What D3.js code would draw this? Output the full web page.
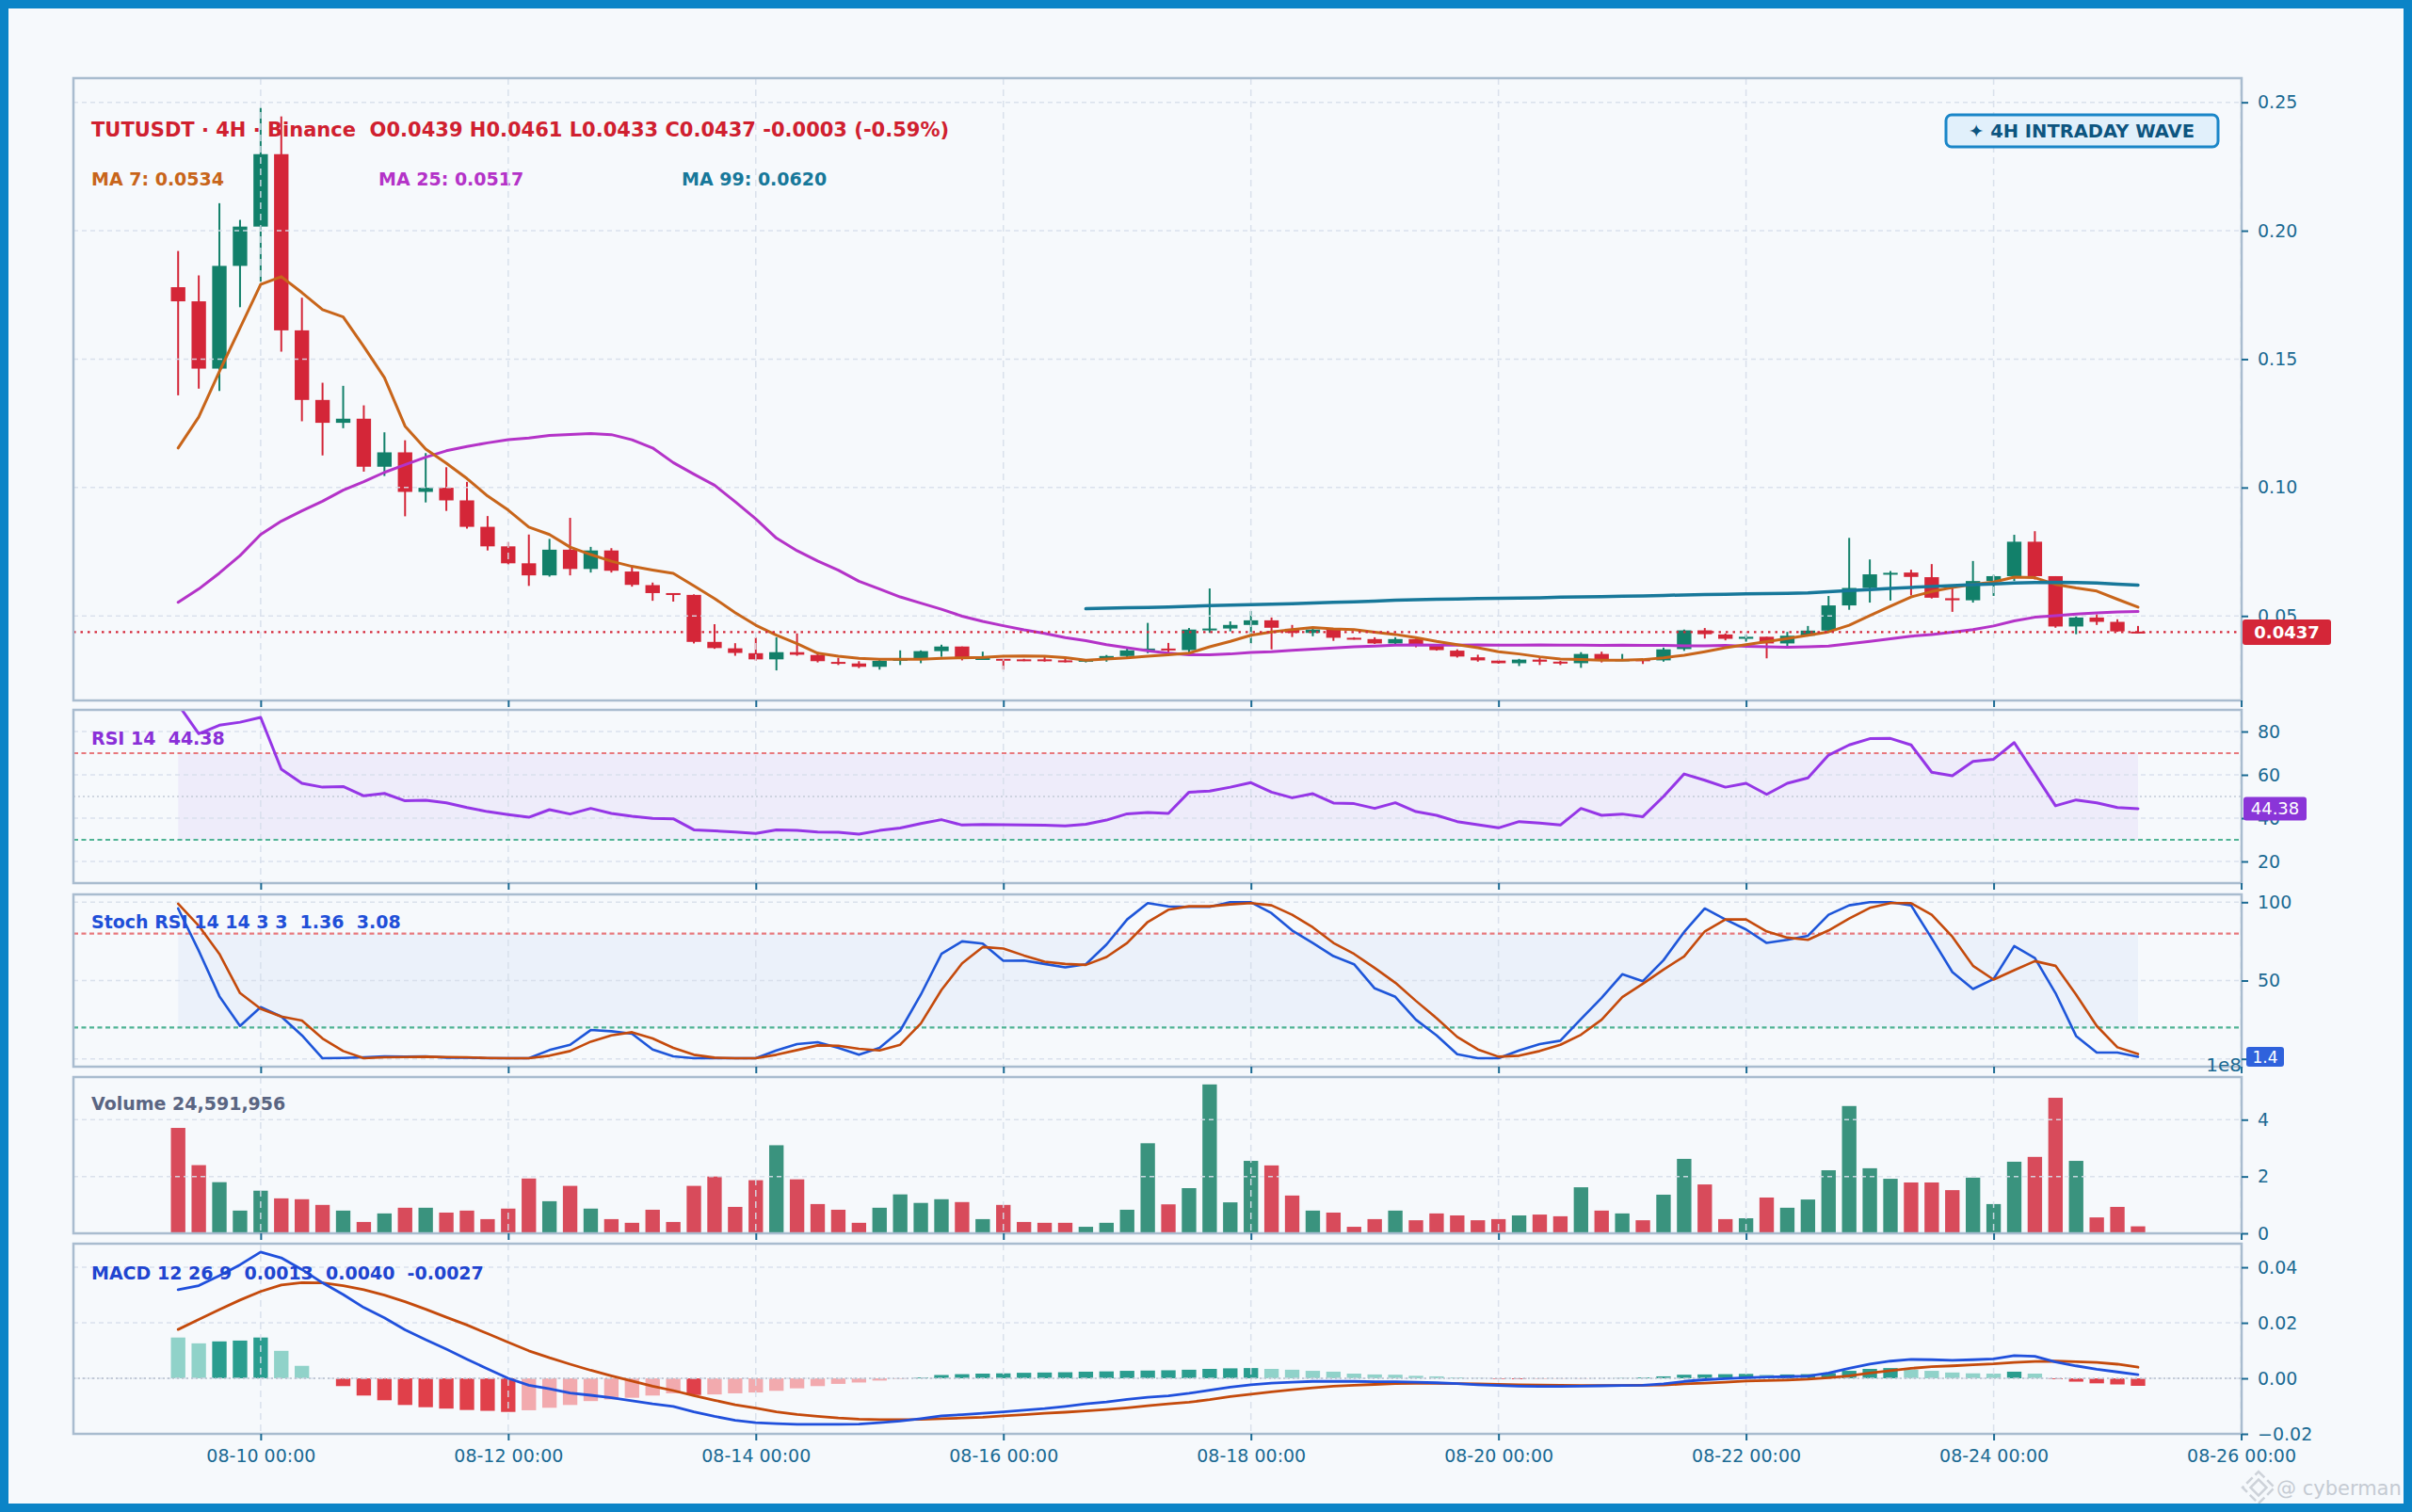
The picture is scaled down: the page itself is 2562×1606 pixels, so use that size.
<!DOCTYPE html>
<html>
<head>
<meta charset="utf-8">
<script src="https://cdnjs.cloudflare.com/ajax/libs/d3/7.8.5/d3.min.js"></script>
<style>
    html, body { margin: 0; padding: 0; background: #f6f9fc; }
    svg { display: block; font-family: "DejaVu Sans", sans-serif; }
</style>
</head>
<body>
<svg id="chart" width="2562" height="1606"></svg>
<script>
// TUTUSDT 4H candles
var candleStart = "2025-08-09 08:00";
var candleHours = 4;

var opens = [0.1780, 0.1725, 0.1463, 0.1863, 0.2016, 0.2298, 0.1612, 0.1341, 0.1252, 0.1268, 0.1081, 0.1137,
    0.0983, 0.0999, 0.0950, 0.0847, 0.0771, 0.0705, 0.0658, 0.0758, 0.0683, 0.0755, 0.0673, 0.0620,
    0.0589, 0.0582, 0.0399, 0.0374, 0.0355, 0.0331, 0.0359, 0.0348, 0.0321, 0.0315, 0.0302, 0.0325,
    0.0336, 0.0363, 0.0381, 0.0331, 0.0333, 0.0331, 0.0331, 0.0327, 0.0325, 0.0329, 0.0344, 0.0366,
    0.0373, 0.0367, 0.0447, 0.0451, 0.0465, 0.0483, 0.0450, 0.0434, 0.0447, 0.0415, 0.0410, 0.0393,
    0.0410, 0.0386, 0.0365, 0.0339, 0.0326, 0.0316, 0.0330, 0.0322, 0.0316, 0.0352, 0.0329, 0.0331,
    0.0327, 0.0371, 0.0444, 0.0428, 0.0411, 0.0419, 0.0393, 0.0423, 0.0443, 0.0541, 0.0609, 0.0662,
    0.0669, 0.0651, 0.0569, 0.0561, 0.0636, 0.0655, 0.0789, 0.0655, 0.0459, 0.0494, 0.0477, 0.0439];

var highs = [0.1921, 0.1826, 0.2107, 0.2042, 0.2478, 0.2445, 0.1739, 0.1408, 0.1396, 0.1320, 0.1215, 0.1184,
    0.1134, 0.1079, 0.1022, 0.0889, 0.0788, 0.0817, 0.0800, 0.0882, 0.0769, 0.0764, 0.0696, 0.0630,
    0.0589, 0.0584, 0.0468, 0.0394, 0.0417, 0.0417, 0.0432, 0.0359, 0.0337, 0.0324, 0.0335, 0.0366,
    0.0366, 0.0388, 0.0381, 0.0361, 0.0333, 0.0333, 0.0343, 0.0339, 0.0331, 0.0348, 0.0380, 0.0473,
    0.0395, 0.0453, 0.0607, 0.0479, 0.0519, 0.0494, 0.0465, 0.0454, 0.0447, 0.0417, 0.0417, 0.0417,
    0.0412, 0.0388, 0.0370, 0.0349, 0.0330, 0.0333, 0.0337, 0.0325, 0.0359, 0.0361, 0.0352, 0.0333,
    0.0377, 0.0447, 0.0453, 0.0432, 0.0428, 0.0419, 0.0438, 0.0461, 0.0578, 0.0804, 0.0720, 0.0675,
    0.0680, 0.0702, 0.0608, 0.0714, 0.0660, 0.0816, 0.0830, 0.0655, 0.0501, 0.0506, 0.0487, 0.0461];

var lows = [0.1359, 0.1385, 0.1376, 0.1702, 0.1801, 0.1529, 0.1258, 0.1125, 0.1231, 0.1062, 0.1045, 0.0888,
    0.0942, 0.0909, 0.0840, 0.0755, 0.0699, 0.0617, 0.0653, 0.0658, 0.0669, 0.0669, 0.0614, 0.0559,
    0.0556, 0.0393, 0.0372, 0.0345, 0.0325, 0.0288, 0.0345, 0.0319, 0.0309, 0.0297, 0.0291, 0.0309,
    0.0316, 0.0341, 0.0327, 0.0331, 0.0291, 0.0324, 0.0322, 0.0319, 0.0319, 0.0322, 0.0339, 0.0355,
    0.0355, 0.0352, 0.0434, 0.0440, 0.0393, 0.0370, 0.0418, 0.0421, 0.0403, 0.0408, 0.0391, 0.0388,
    0.0378, 0.0365, 0.0338, 0.0322, 0.0314, 0.0305, 0.0309, 0.0309, 0.0298, 0.0319, 0.0325, 0.0313,
    0.0322, 0.0364, 0.0412, 0.0405, 0.0400, 0.0335, 0.0383, 0.0420, 0.0442, 0.0524, 0.0552, 0.0560,
    0.0580, 0.0568, 0.0516, 0.0552, 0.0578, 0.0636, 0.0642, 0.0454, 0.0429, 0.0465, 0.0438, 0.0433];

var closes = [0.1725, 0.1463, 0.1863, 0.2016, 0.2298, 0.1612, 0.1341, 0.1252, 0.1268, 0.1081, 0.1137, 0.0983,
    0.0999, 0.0950, 0.0847, 0.0771, 0.0705, 0.0658, 0.0758, 0.0683, 0.0755, 0.0676, 0.0621, 0.0589,
    0.0585, 0.0399, 0.0375, 0.0356, 0.0331, 0.0359, 0.0349, 0.0324, 0.0316, 0.0302, 0.0325, 0.0336,
    0.0363, 0.0381, 0.0333, 0.0336, 0.0331, 0.0326, 0.0327, 0.0323, 0.0329, 0.0344, 0.0366, 0.0373,
    0.0366, 0.0447, 0.0451, 0.0465, 0.0483, 0.0454, 0.0434, 0.0447, 0.0415, 0.0410, 0.0393, 0.0410,
    0.0386, 0.0367, 0.0342, 0.0327, 0.0316, 0.0330, 0.0322, 0.0316, 0.0352, 0.0329, 0.0331, 0.0327,
    0.0370, 0.0444, 0.0429, 0.0411, 0.0419, 0.0393, 0.0423, 0.0443, 0.0541, 0.0609, 0.0662, 0.0668,
    0.0652, 0.0571, 0.0561, 0.0636, 0.0655, 0.0789, 0.0655, 0.0459, 0.0494, 0.0477, 0.0440, 0.0437];

var volumes = [3.71e8, 2.40e8, 1.80e8, 0.80e8, 1.50e8, 1.23e8, 1.20e8, 1.00e8, 0.80e8, 0.40e8, 0.70e8, 0.90e8,
    0.90e8, 0.73e8, 0.80e8, 0.50e8, 0.87e8, 1.93e8, 1.13e8, 1.67e8, 0.87e8, 0.50e8, 0.37e8, 0.83e8,
    0.40e8, 1.67e8, 2.00e8, 0.93e8, 1.87e8, 3.10e8, 1.90e8, 1.03e8, 0.83e8, 0.37e8, 0.90e8, 1.37e8,
    1.07e8, 1.20e8, 1.10e8, 0.50e8, 1.00e8, 0.40e8, 0.37e8, 0.37e8, 0.23e8, 0.37e8, 0.83e8, 3.17e8,
    1.02e8, 1.59e8, 5.24e8, 1.09e8, 2.55e8, 2.39e8, 1.33e8, 0.80e8, 0.73e8, 0.23e8, 0.50e8, 0.80e8,
    0.46e8, 0.70e8, 0.63e8, 0.46e8, 0.50e8, 0.63e8, 0.66e8, 0.60e8, 1.62e8, 0.80e8, 0.70e8, 0.46e8,
    1.36e8, 2.62e8, 1.72e8, 0.50e8, 0.53e8, 1.26e8, 0.90e8, 1.19e8, 2.22e8, 4.48e8, 2.29e8, 1.92e8,
    1.79e8, 1.79e8, 1.52e8, 1.96e8, 1.03e8, 2.52e8, 2.69e8, 4.77e8, 2.55e8, 0.56e8, 0.93e8, 24591956];

var ma7 = [0.1154, 0.1275, 0.1452, 0.1621, 0.1791, 0.1821, 0.1759, 0.1693, 0.1664, 0.1549, 0.1428, 0.1239,
    0.1150, 0.1095, 0.1035, 0.0967, 0.0912, 0.0846, 0.0817, 0.0768, 0.0739, 0.0713, 0.0693, 0.0679,
    0.0666, 0.0617, 0.0568, 0.0513, 0.0464, 0.0425, 0.0392, 0.0355, 0.0343, 0.0335, 0.0331, 0.0331,
    0.0331, 0.0335, 0.0337, 0.0339, 0.0343, 0.0344, 0.0343, 0.0338, 0.0328, 0.0332, 0.0337, 0.0343,
    0.0349, 0.0355, 0.0380, 0.0401, 0.0425, 0.0438, 0.0447, 0.0455, 0.0450, 0.0447, 0.0437, 0.0428,
    0.0416, 0.0401, 0.0388, 0.0376, 0.0361, 0.0352, 0.0341, 0.0332, 0.0330, 0.0328, 0.0328, 0.0330,
    0.0337, 0.0347, 0.0361, 0.0376, 0.0388, 0.0400, 0.0412, 0.0425, 0.0438, 0.0464, 0.0501, 0.0538,
    0.0574, 0.0595, 0.0611, 0.0623, 0.0632, 0.0651, 0.0649, 0.0623, 0.0609, 0.0597, 0.0565, 0.0534];

var ma25 = [0.0553, 0.0605, 0.0667, 0.0735, 0.0817, 0.0869, 0.0909, 0.0947, 0.0990, 0.1023, 0.1059, 0.1089,
    0.1118, 0.1143, 0.1160, 0.1174, 0.1186, 0.1193, 0.1203, 0.1207, 0.1210, 0.1206, 0.1186, 0.1154,
    0.1097, 0.1052, 0.1009, 0.0945, 0.0878, 0.0803, 0.0754, 0.0714, 0.0678, 0.0635, 0.0605, 0.0574,
    0.0550, 0.0526, 0.0499, 0.0479, 0.0462, 0.0446, 0.0432, 0.0416, 0.0404, 0.0388, 0.0376, 0.0364,
    0.0355, 0.0349, 0.0349, 0.0352, 0.0358, 0.0361, 0.0366, 0.0371, 0.0375, 0.0380, 0.0383, 0.0386,
    0.0387, 0.0386, 0.0386, 0.0387, 0.0386, 0.0386, 0.0387, 0.0386, 0.0386, 0.0385, 0.0386, 0.0385,
    0.0385, 0.0384, 0.0384, 0.0385, 0.0382, 0.0380, 0.0378, 0.0380, 0.0383, 0.0392, 0.0401, 0.0411,
    0.0421, 0.0428, 0.0437, 0.0447, 0.0461, 0.0481, 0.0495, 0.0501, 0.0507, 0.0512, 0.0516, 0.0517];

// MA 99 only exists from candle 44 on
var ma99Start = 44;
var ma99 = [0.0528, 0.0530, 0.0532, 0.0533, 0.0535, 0.0538, 0.0540, 0.0542, 0.0544, 0.0546, 0.0548, 0.0550,
    0.0553, 0.0555, 0.0558, 0.0561, 0.0563, 0.0565, 0.0566, 0.0568, 0.0569, 0.0570, 0.0571, 0.0573,
    0.0574, 0.0575, 0.0577, 0.0578, 0.0580, 0.0582, 0.0583, 0.0584, 0.0586, 0.0587, 0.0588, 0.0590,
    0.0594, 0.0599, 0.0603, 0.0607, 0.0611, 0.0615, 0.0618, 0.0622, 0.0625, 0.0628, 0.0630, 0.0631,
    0.0630, 0.0628, 0.0624, 0.0620];

var rsi14 = [92.5, 79.0, 82.9, 84.3, 86.5, 62.6, 56.1, 54.3, 54.6, 50.3, 51.4, 48.0,
    48.3, 47.1, 44.9, 43.0, 41.6, 40.4, 43.9, 41.9, 44.5, 42.2, 40.9, 39.9,
    39.7, 34.6, 34.1, 33.6, 32.9, 34.6, 34.3, 33.6, 33.5, 32.6, 34.3, 35.4,
    37.5, 39.3, 36.8, 37.1, 37.0, 36.8, 36.7, 36.4, 37.2, 39.1, 42.0, 42.6,
    42.2, 52.0, 52.5, 54.3, 56.4, 52.0, 49.4, 51.3, 47.0, 46.7, 44.5, 47.1,
    43.0, 41.3, 38.4, 37.0, 35.5, 38.4, 37.7, 36.8, 44.5, 41.3, 41.9, 40.7,
    50.0, 60.4, 57.5, 54.3, 56.1, 51.0, 56.1, 58.6, 69.1, 73.8, 76.7, 76.8,
    73.8, 61.2, 59.6, 66.2, 67.2, 74.9, 60.4, 45.7, 48.4, 47.1, 44.9, 44.38];

var stochK = [96, 69, 40, 21, 33, 27, 15, 0.4, 0.6, 1.0, 1.6, 1.4,
    1.6, 0.8, 0.8, 0.4, 0.4, 0.4, 5.6, 9.0, 18.4, 17.6, 16.0, 6.0,
    1.6, 0.4, 0.4, 0.4, 0.4, 5.4, 9.4, 10.6, 7.0, 2.6, 7.0, 18.0,
    41.0, 67.0, 75.0, 73.6, 62.6, 62.8, 60.6, 58.4, 60.4, 73.0, 89.0, 99.4,
    97.3, 97.0, 97.0, 100, 100, 93, 82, 74, 65.6, 60.4, 45, 39.6,
    25, 15, 3, 0.4, 0.4, 5.4, 9.4, 11.6, 25.4, 39, 54, 49.6,
    63, 81, 96, 89, 82.6, 74, 76, 78.6, 92, 98, 100, 100,
    98, 77, 55.4, 44.6, 51, 72, 64.4, 42, 14.6, 4, 4, 1.36];

var stochD = [99, 85, 67, 42, 32, 27, 24.4, 13, 5, 0.4, 1.0, 1.2,
    1.4, 1.2, 1.0, 0.6, 0.4, 0.4, 2.0, 5.0, 11.0, 15.0, 17.0, 13.0,
    7.0, 2.6, 0.8, 0.4, 0.4, 2.6, 5.6, 8.6, 8.4, 6.4, 5.4, 9.0,
    22.6, 44, 61, 71.4, 70.4, 66, 62, 60.6, 60, 65, 74, 87.4,
    95.2, 97.4, 97.4, 98.6, 99.4, 98, 92, 84, 74, 67, 58, 48.6,
    37, 26, 14, 6, 1.4, 2, 5, 9, 15.4, 25, 39.4, 48,
    57, 65.4, 81.4, 89, 89, 81.4, 77.4, 76, 82, 89.6, 96.4, 99.4,
    99.4, 92, 78, 59.4, 50.6, 56.6, 62.4, 59.4, 41, 21, 7.4, 3.08];

var macdLine = [0.0319, 0.0334, 0.0370, 0.0409, 0.0455, 0.0434, 0.0392, 0.0344, 0.0302, 0.0255, 0.0218, 0.0175,
    0.0139, 0.0105, 0.0069, 0.0034, 0.0000, -0.0025, -0.0038, -0.0053, -0.0061, -0.0070, -0.0081, -0.0092,
    -0.0101, -0.0121, -0.0137, -0.0151, -0.0160, -0.0163, -0.0166, -0.0166, -0.0166, -0.0165, -0.0160, -0.0154,
    -0.0145, -0.0135, -0.0131, -0.0126, -0.0121, -0.0115, -0.0109, -0.0101, -0.0092, -0.0085, -0.0076, -0.0068,
    -0.0063, -0.0054, -0.0043, -0.0032, -0.0023, -0.0017, -0.0014, -0.0011, -0.0011, -0.0011, -0.0012, -0.0012,
    -0.0014, -0.0016, -0.0019, -0.0023, -0.0026, -0.0028, -0.0029, -0.0029, -0.0028, -0.0027, -0.0026, -0.0025,
    -0.0020, -0.0011, -0.0005, -0.0001, 0.0002, 0.0005, 0.0006, 0.0008, 0.0019, 0.0036, 0.0051, 0.0062,
    0.0068, 0.0067, 0.0065, 0.0067, 0.0070, 0.0082, 0.0079, 0.0059, 0.0045, 0.0033, 0.0023, 0.0013];

var macdSignal = [0.0176, 0.0212, 0.0248, 0.0282, 0.0313, 0.0336, 0.0345, 0.0344, 0.0334, 0.0319, 0.0300, 0.0276,
    0.0249, 0.0220, 0.0192, 0.0161, 0.0130, 0.0099, 0.0074, 0.0051, 0.0029, 0.0009, -0.0010, -0.0028,
    -0.0044, -0.0062, -0.0079, -0.0095, -0.0107, -0.0121, -0.0130, -0.0137, -0.0143, -0.0147, -0.0149, -0.0149,
    -0.0148, -0.0145, -0.0143, -0.0140, -0.0135, -0.0131, -0.0126, -0.0122, -0.0117, -0.0112, -0.0106, -0.0099,
    -0.0092, -0.0086, -0.0077, -0.0066, -0.0057, -0.0049, -0.0041, -0.0034, -0.0028, -0.0025, -0.0022, -0.0019,
    -0.0018, -0.0018, -0.0019, -0.0020, -0.0022, -0.0023, -0.0024, -0.0025, -0.0026, -0.0026, -0.0026, -0.0025,
    -0.0024, -0.0020, -0.0017, -0.0014, -0.0010, -0.0008, -0.0006, -0.0003, 0.0002, 0.0009, 0.0019, 0.0028,
    0.0036, 0.0042, 0.0045, 0.0049, 0.0052, 0.0057, 0.0061, 0.0062, 0.0060, 0.0057, 0.0051, 0.0040];

var macdHist = [0.0147, 0.0126, 0.0133, 0.0136, 0.0147, 0.0099, 0.0045, 0.0000, -0.0028, -0.0062, -0.0079, -0.0096,
    -0.0104, -0.0109, -0.0114, -0.0117, -0.0121, -0.0115, -0.0106, -0.0096, -0.0082, -0.0076, -0.0070, -0.0062,
    -0.0054, -0.0060, -0.0058, -0.0054, -0.0051, -0.0045, -0.0036, -0.0028, -0.0020, -0.0015, -0.0008, -0.0002,
    0.0003, 0.0012, 0.0015, 0.0017, 0.0018, 0.0020, 0.0021, 0.0022, 0.0024, 0.0025, 0.0027, 0.0028,
    0.0029, 0.0031, 0.0034, 0.0036, 0.0037, 0.0034, 0.0031, 0.0027, 0.0024, 0.0017, 0.0014, 0.0013,
    0.0009, 0.0007, 0.0003, 0.0001, -0.0002, -0.0003, -0.0002, -0.0001, -0.0001, 0.0000, 0.0001, 0.0003,
    0.0007, 0.0013, 0.0014, 0.0015, 0.0016, 0.0013, 0.0014, 0.0015, 0.0019, 0.0027, 0.0034, 0.0037,
    0.0031, 0.0027, 0.0021, 0.0018, 0.0017, 0.0024, 0.0017, -0.0003, -0.0012, -0.0018, -0.0022, -0.0027];

var xTickLabels = ["08-10 00:00", "08-12 00:00", "08-14 00:00", "08-16 00:00", "08-18 00:00",
    "08-20 00:00", "08-22 00:00", "08-24 00:00", "08-26 00:00"];
var priceTicks = [0.05, 0.10, 0.15, 0.20, 0.25];
var rsiTicks = [20, 40, 60, 80];
var stochTicks = [0, 50, 100];
var volumeTicks = [0, 2e8, 4e8];
var macdTicks = [-0.02, 0, 0.02, 0.04];

var titleText = "TUTUSDT · 4H · Binance  O0.0439 H0.0461 L0.0433 C0.0437 -0.0003 (-0.59%)";
var lastPrice = 0.0437;

// ---------------------------------------------------------------
var UP = "#12806a", DOWN = "#d42638";
var VOL_UP = "#3a937e", VOL_DOWN = "#d84b5b";
var TICK_COLOR = "#1b6a93";
var GRID_COLOR = "#d7dfeb";
var FRAME_COLOR = "#a9bccf";

var X_LEFT = 78, X_RIGHT = 2381;
var PANELS = {
    price: {top: 83, bottom: 744},
    rsi: {top: 754, bottom: 938},
    stoch: {top: 950, bottom: 1133},
    volume: {top: 1144, bottom: 1310},
    macd: {top: 1321, bottom: 1523}
};

var parseTime = d3.utcParse("%Y-%m-%d %H:%M");
var t0 = parseTime(candleStart);
var candleTimes = d3.range(opens.length).map(function (i) {
    return d3.utcHour.offset(t0, candleHours * i);
});
var xTickDates = xTickLabels.map(function (s) { return parseTime("2025-" + s); });

var x = d3.scaleUtc()
    .domain([parseTime("2025-08-08 11:42"), parseTime("2025-08-26 00:05")])
    .range([X_LEFT, X_RIGHT]);

var yPrice = d3.scaleLinear().domain([0.0171, 0.2594]).range([PANELS.price.bottom, PANELS.price.top]);
var yRsi = d3.scaleLinear().domain([10, 90]).range([PANELS.rsi.bottom, PANELS.rsi.top]);
var yStoch = d3.scaleLinear().domain([-5, 105]).range([PANELS.stoch.bottom, PANELS.stoch.top]);
var yVol = d3.scaleLinear().domain([0, 5.5e8]).range([PANELS.volume.bottom, PANELS.volume.top]);
var yMacd = d3.scaleLinear().domain([-0.02, 0.0485]).range([PANELS.macd.bottom, PANELS.macd.top]);

var step = x(candleTimes[1]) - x(candleTimes[0]);
var barW = step * 0.7;

function xAt(i) { return x(candleTimes[i]); }
function isUp(i) { return closes[i] >= opens[i]; }

var svg = d3.select("#chart");
var defs = svg.append("defs");

svg.append("rect").attr("width", 2562).attr("height", 1606).attr("fill", "#f6f9fc");

function makeClip(name, panel) {
    defs.append("clipPath").attr("id", "clip-" + name)
        .append("rect")
        .attr("x", X_LEFT).attr("y", panel.top)
        .attr("width", X_RIGHT - X_LEFT).attr("height", panel.bottom - panel.top);
}

function panelGroup(name) {
    makeClip(name, PANELS[name]);
    return svg.append("g").attr("clip-path", "url(#clip-" + name + ")");
}

function drawGrid(g, panel, yScale, ticks) {
    g.selectAll(null).data(ticks).join("line")
        .attr("x1", X_LEFT).attr("x2", X_RIGHT)
        .attr("y1", function (d) { return yScale(d); })
        .attr("y2", function (d) { return yScale(d); })
        .attr("stroke", GRID_COLOR).attr("stroke-width", 1.5)
        .attr("stroke-dasharray", "5,4").attr("opacity", 0.9);
    g.selectAll(null).data(xTickDates).join("line")
        .attr("x1", function (d) { return x(d); })
        .attr("x2", function (d) { return x(d); })
        .attr("y1", panel.top).attr("y2", panel.bottom)
        .attr("stroke", GRID_COLOR).attr("stroke-width", 1.5)
        .attr("stroke-dasharray", "7,5").attr("opacity", 0.9);
}

function drawHLine(g, y, color, dash, width) {
    g.append("line")
        .attr("x1", X_LEFT).attr("x2", X_RIGHT)
        .attr("y1", y).attr("y2", y)
        .attr("stroke", color).attr("stroke-width", width || 2)
        .attr("stroke-dasharray", dash);
}

function drawSeries(g, values, yScale, color, width, offset) {
    offset = offset || 0;
    var line = d3.line()
        .x(function (d, i) { return xAt(i + offset); })
        .y(function (d) { return yScale(d); });
    g.append("path")
        .datum(values)
        .attr("d", line)
        .attr("fill", "none")
        .attr("stroke", color)
        .attr("stroke-width", width)
        .attr("stroke-linejoin", "round")
        .attr("stroke-linecap", "round");
}

function drawLabel(txt, y, color, size) {
    svg.append("text")
        .attr("x", 97).attr("y", y)
        .attr("fill", color)
        .attr("font-size", size || 19)
        .attr("font-weight", "bold")
        .style("white-space", "pre")
        .text(txt);
}

function drawFrame(panel) {
    svg.append("rect")
        .attr("x", X_LEFT).attr("y", panel.top)
        .attr("width", X_RIGHT - X_LEFT).attr("height", panel.bottom - panel.top)
        .attr("fill", "none").attr("stroke", FRAME_COLOR).attr("stroke-width", 2.5);
}

function drawRightAxis(panel, yScale, ticks, fmt) {
    var axis = d3.axisRight(yScale).tickValues(ticks).tickSize(7).tickPadding(10).tickFormat(fmt);
    var g = svg.append("g").attr("transform", "translate(" + X_RIGHT + ",0)").call(axis);
    styleAxis(g);
}

function drawBottomAxis(panel, withLabels) {
    var axis = d3.axisBottom(x).tickValues(xTickDates).tickSize(7).tickPadding(10)
        .tickFormat(withLabels ? d3.utcFormat("%m-%d %H:%M") : "");
    var g = svg.append("g").attr("transform", "translate(0," + panel.bottom + ")").call(axis);
    styleAxis(g);
}

function styleAxis(g) {
    g.select(".domain").remove();
    g.selectAll(".tick line").attr("stroke", TICK_COLOR).attr("stroke-width", 2);
    g.selectAll(".tick text")
        .attr("fill", TICK_COLOR)
        .attr("font-size", 19)
        .attr("font-family", "DejaVu Sans");
}

function drawBadge(cx, cy, w, h, fill, txt, size, bold) {
    svg.append("rect")
        .attr("x", cx).attr("y", cy - h / 2)
        .attr("width", w).attr("height", h)
        .attr("rx", 3).attr("fill", fill);
    svg.append("text")
        .attr("x", cx + w / 2).attr("y", cy)
        .attr("dy", "0.36em")
        .attr("text-anchor", "middle")
        .attr("fill", "#ffffff")
        .attr("font-size", size)
        .attr("font-weight", bold ? "bold" : "normal")
        .text(txt);
}

// ---------------- price panel ----------------
drawLabel(titleText, 145, "#d0202f", 21);
drawLabel("MA 7: " + ma7[ma7.length - 1].toFixed(4), 197, "#c8651a");
svg.append("text").attr("x", 402).attr("y", 197).attr("fill", "#b433c8")
    .attr("font-size", 19).attr("font-weight", "bold")
    .text("MA 25: " + ma25[ma25.length - 1].toFixed(4));
svg.append("text").attr("x", 724).attr("y", 197).attr("fill", "#17789a")
    .attr("font-size", 19).attr("font-weight", "bold")
    .text("MA 99: " + ma99[ma99.length - 1].toFixed(4));

var priceG = panelGroup("price");
var candles = priceG.selectAll("g.candle").data(d3.range(opens.length)).join("g").attr("class", "candle");
candles.append("line")
    .attr("x1", xAt).attr("x2", xAt)
    .attr("y1", function (i) { return yPrice(highs[i]); })
    .attr("y2", function (i) { return yPrice(lows[i]); })
    .attr("stroke", function (i) { return isUp(i) ? UP : DOWN; })
    .attr("stroke-width", 2);
candles.append("rect")
    .attr("x", function (i) { return xAt(i) - barW / 2; })
    .attr("y", function (i) { return yPrice(Math.max(opens[i], closes[i])); })
    .attr("width", barW)
    .attr("height", function (i) {
        return Math.max(2, Math.abs(yPrice(opens[i]) - yPrice(closes[i])));
    })
    .attr("fill", function (i) { return isUp(i) ? UP : DOWN; });
drawGrid(priceG, PANELS.price, yPrice, priceTicks);
drawSeries(priceG, ma25, yPrice, "#b433c8", 3);
drawSeries(priceG, ma7, yPrice, "#c8651a", 3);
drawSeries(priceG, ma99, yPrice, "#17789a", 3.5, ma99Start);
drawHLine(priceG, yPrice(lastPrice), DOWN, "2.5,5", 2.2);
drawFrame(PANELS.price);

// intraday badge
svg.append("rect")
    .attr("x", 2067).attr("y", 122).attr("width", 289).attr("height", 34)
    .attr("rx", 6).attr("fill", "#e1f0fb")
    .attr("stroke", "#1a86c8").attr("stroke-width", 3);
svg.append("text")
    .attr("x", 2211).attr("y", 146)
    .attr("text-anchor", "middle")
    .attr("fill", "#0d5580").attr("font-size", 19.5).attr("font-weight", "bold")
    .text("✦ 4H INTRADAY WAVE");

// ---------------- RSI panel ----------------
var rsiG = panelGroup("rsi");
rsiG.append("rect")
    .attr("x", xAt(0)).attr("width", xAt(opens.length - 1) - xAt(0))
    .attr("y", yRsi(70)).attr("height", yRsi(30) - yRsi(70))
    .attr("fill", "#9b59e6").attr("opacity", 0.08);
drawGrid(rsiG, PANELS.rsi, yRsi, rsiTicks);
drawHLine(rsiG, yRsi(50), "#c2cad6", "2,3", 1.5);
drawHLine(rsiG, yRsi(70), "#e8787c", "5,3.5", 2.2);
drawHLine(rsiG, yRsi(30), "#4fb394", "5,3.5", 2.2);
drawLabel("RSI 14  " + rsi14[rsi14.length - 1].toFixed(2), 791, "#8a2fd8");
drawSeries(rsiG, rsi14, yRsi, "#9536e6", 3);
drawFrame(PANELS.rsi);

// ---------------- Stoch RSI panel ----------------
var stochG = panelGroup("stoch");
stochG.append("rect")
    .attr("x", xAt(0)).attr("width", xAt(opens.length - 1) - xAt(0))
    .attr("y", yStoch(80)).attr("height", yStoch(20) - yStoch(80))
    .attr("fill", "#4a74e0").attr("opacity", 0.06);
drawGrid(stochG, PANELS.stoch, yStoch, stochTicks);
drawHLine(stochG, yStoch(80), "#e8787c", "5,3.5", 2.2);
drawHLine(stochG, yStoch(20), "#4fb394", "5,3.5", 2.2);
drawLabel("Stoch RSI 14 14 3 3  " + stochK[stochK.length - 1].toFixed(2) + "  " +
    stochD[stochD.length - 1].toFixed(2), 986, "#1f4fd8");
drawSeries(stochG, stochK, yStoch, "#1e56d9", 2.6);
drawSeries(stochG, stochD, yStoch, "#c44a0c", 2.6);
drawFrame(PANELS.stoch);

// ---------------- Volume panel ----------------
var volG = panelGroup("volume");
drawLabel("Volume " + d3.format(",")(volumes[volumes.length - 1]), 1179, "#5a6582");
volG.selectAll("rect.vol").data(volumes).join("rect").attr("class", "vol")
    .attr("x", function (d, i) { return xAt(i) - barW / 2; })
    .attr("y", function (d) { return yVol(d); })
    .attr("width", barW)
    .attr("height", function (d) { return yVol(0) - yVol(d); })
    .attr("fill", function (d, i) { return isUp(i) ? VOL_UP : VOL_DOWN; });
drawGrid(volG, PANELS.volume, yVol, volumeTicks.slice(1));
drawFrame(PANELS.volume);

// ---------------- MACD panel ----------------
var macdG = panelGroup("macd");
drawLabel("MACD 12 26 9  " + macdLine[macdLine.length - 1].toFixed(4) + "  " +
    macdSignal[macdSignal.length - 1].toFixed(4) + "  " +
    macdHist[macdHist.length - 1].toFixed(4), 1359, "#1f45d0");
macdG.selectAll("rect.hist").data(macdHist).join("rect").attr("class", "hist")
    .attr("x", function (d, i) { return xAt(i) - barW / 2; })
    .attr("y", function (d) { return yMacd(Math.max(0, d)); })
    .attr("width", barW)
    .attr("height", function (d) { return Math.abs(yMacd(d) - yMacd(0)); })
    .attr("fill", function (d, i) {
        var prev = i > 0 ? macdHist[i - 1] : null;
        if (d >= 0) {
            return (prev !== null && d > prev) ? "#2a9d8f" : "#90d2c9";
        }
        return (prev !== null && d < prev) ? "#e0404a" : "#f2aaae";
    });
drawGrid(macdG, PANELS.macd, yMacd, macdTicks);
drawHLine(macdG, yMacd(0), "#b6bfcc", "2,3", 1.5);
drawSeries(macdG, macdSignal, yMacd, "#c44a0c", 2.8);
drawSeries(macdG, macdLine, yMacd, "#2050dc", 2.8);
drawFrame(PANELS.macd);

// ---------------- axes ----------------
drawRightAxis(PANELS.price, yPrice, priceTicks, d3.format(".2f"));
drawRightAxis(PANELS.rsi, yRsi, rsiTicks, d3.format("d"));
// the 0 label of the stoch axis sits under the last-value tag, so only 50 and 100 are written
drawRightAxis(PANELS.stoch, yStoch, stochTicks, function (d) { return d === 0 ? "" : d3.format("d")(d); });
drawRightAxis(PANELS.volume, yVol, volumeTicks, function (d) { return d3.format("d")(d / 1e8); });
drawRightAxis(PANELS.macd, yMacd, macdTicks, d3.format(".2f"));

drawBottomAxis(PANELS.price, false);
drawBottomAxis(PANELS.rsi, false);
drawBottomAxis(PANELS.stoch, false);
drawBottomAxis(PANELS.volume, false);
drawBottomAxis(PANELS.macd, true);

svg.append("text")
    .attr("x", X_RIGHT).attr("y", 1138)
    .attr("text-anchor", "end")
    .attr("fill", TICK_COLOR).attr("font-size", 20)
    .text("1e8");

// last value tags on the right
drawBadge(2382, yPrice(lastPrice), 94, 27, DOWN, lastPrice.toFixed(4), 18, true);
drawBadge(2383, yRsi(rsi14[rsi14.length - 1]), 67, 25, "#8a35d8", rsi14[rsi14.length - 1].toFixed(2), 18, false);
drawBadge(2386, yStoch(stochK[stochK.length - 1]), 40, 21, "#2f62dc", stochK[stochK.length - 1].toFixed(1), 17, false);

// watermark
var wm = svg.append("g").attr("transform", "translate(2399,1580)")
    .attr("fill", "none").attr("stroke", "#cdd2d9").attr("stroke-width", 2.5);
wm.append("rect").attr("x", -6).attr("y", -6).attr("width", 12).attr("height", 12)
    .attr("transform", "rotate(45)");
wm.append("rect").attr("x", -12).attr("y", -12).attr("width", 24).attr("height", 24)
    .attr("transform", "rotate(45)").attr("stroke-dasharray", "9,4");
svg.append("text")
    .attr("x", 2418).attr("y", 1588)
    .attr("fill", "#c5cbd3").attr("font-size", 21)
    .text("@ cyberman");

// outer frame
svg.append("rect")
    .attr("x", 4.5).attr("y", 4.5).attr("width", 2553).attr("height", 1597)
    .attr("fill", "none").attr("stroke", "#0b84c7").attr("stroke-width", 9);
</script>
</body>
</html>
